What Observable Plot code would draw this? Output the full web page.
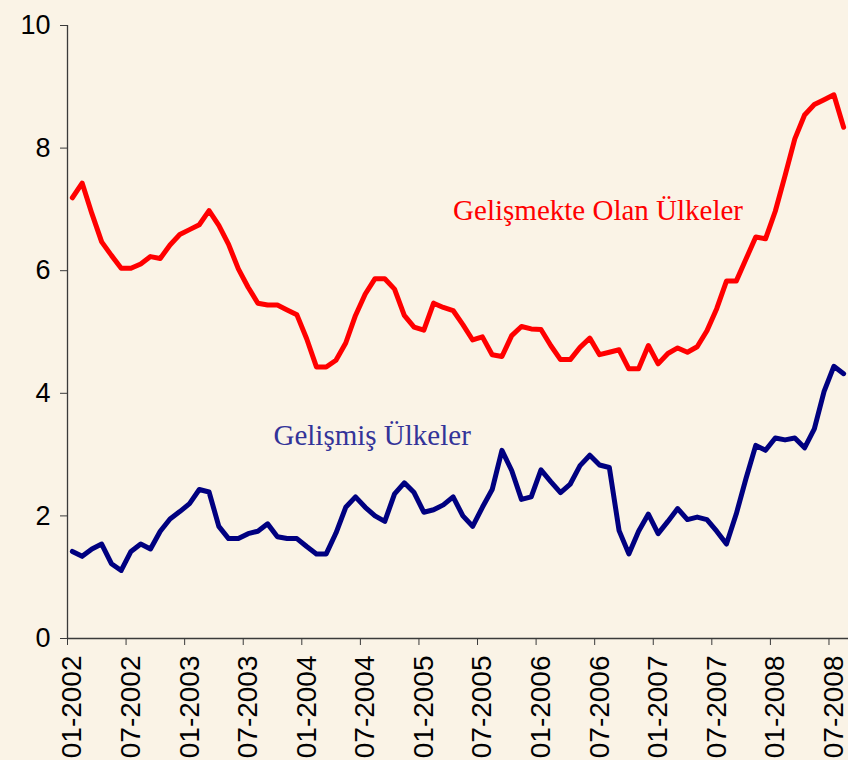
<!DOCTYPE html>
<html>
<head>
<meta charset="utf-8">
<script src="https://cdn.jsdelivr.net/npm/d3@7"></script>
<script src="https://cdn.jsdelivr.net/npm/@observablehq/plot@0.6"></script>
<style>
  html, body { margin: 0; padding: 0; background: #FAF3E6; }
  #chart { width: 848px; height: 760px; overflow: hidden; }
</style>
</head>
<body>
<div id="chart"></div>
<script>
// Monthly values, 01-2002 … 08-2008 (80 months)
const developing = [
  7.19, 7.43, 6.93, 6.47, 6.25, 6.04, 6.04, 6.11, 6.23, 6.20, 6.42, 6.59,
  6.67, 6.75, 6.98, 6.74, 6.43, 6.03, 5.73, 5.47, 5.44, 5.44, 5.36, 5.28,
  4.89, 4.43, 4.43, 4.54, 4.82, 5.27, 5.62, 5.87, 5.87, 5.70, 5.27, 5.08,
  5.03, 5.47, 5.40, 5.35, 5.12, 4.87, 4.92, 4.63, 4.60, 4.94, 5.09, 5.05,
  5.04, 4.78, 4.55, 4.55, 4.75, 4.90, 4.63, 4.67, 4.71, 4.40, 4.40, 4.78,
  4.48, 4.65, 4.74, 4.67, 4.76, 5.02, 5.38, 5.83, 5.83, 6.19, 6.55, 6.52,
  6.97, 7.55, 8.15, 8.54, 8.71, 8.79, 8.87, 8.34
];
const developed = [
  1.42, 1.34, 1.46, 1.54, 1.22, 1.11, 1.42, 1.54, 1.46, 1.75, 1.95, 2.07,
  2.20, 2.43, 2.39, 1.83, 1.63, 1.63, 1.71, 1.75, 1.87, 1.66, 1.63, 1.63,
  1.50, 1.38, 1.38, 1.72, 2.14, 2.31, 2.14, 2.00, 1.91, 2.36, 2.54, 2.38,
  2.06, 2.10, 2.18, 2.31, 2.00, 1.83, 2.14, 2.43, 3.07, 2.74, 2.27, 2.31,
  2.75, 2.56, 2.38, 2.52, 2.82, 2.99, 2.83, 2.79, 1.76, 1.38, 1.75, 2.03,
  1.71, 1.91, 2.12, 1.94, 1.98, 1.94, 1.75, 1.54, 2.03, 2.61, 3.15, 3.07,
  3.27, 3.24, 3.27, 3.11, 3.42, 4.03, 4.44, 4.32
];
const tickLabels = [
  "01-2002", "07-2002", "01-2003", "07-2003", "01-2004", "07-2004", "01-2005",
  "07-2005", "01-2006", "07-2006", "01-2007", "07-2007", "01-2008", "07-2008"
];
const yTicks = [0, 2, 4, 6, 8, 10];
const labelDeveloping = "Gelişmekte Olan Ülkeler";
const labelDeveloped = "Gelişmiş Ülkeler";

const nMonths = developing.length;
const dataDev = developing.map((v, i) => ({m: i + 0.5, v}));
const dataAdv = developed.map((v, i) => ({m: i + 0.5, v}));
const boundaryTicks = tickLabels.map((_, k) => k * 6);
const labelTicks = tickLabels.map((_, k) => k * 6 + 0.5);

const axisColor = "#3a3a3a";

const chart = Plot.plot({
  width: 848,
  height: 760,
  marginLeft: 67,
  marginRight: 0,
  marginTop: 25,
  marginBottom: 122,
  style: {background: "#FAF3E6", fontFamily: "'Liberation Sans', Arial, sans-serif", color: "#000"},
  x: {type: "linear", domain: [0, nMonths]},
  y: {domain: [0, 10]},
  marks: [
    Plot.axisY({ticks: yTicks, tickSize: 7, tickPadding: 10, fontSize: 27, label: null, stroke: axisColor, fill: "#000"}),
    Plot.axisX({ticks: boundaryTicks, tickSize: 7, tickFormat: () => "", label: null, stroke: axisColor}),
    Plot.axisX({ticks: labelTicks, tickSize: 0, tickPadding: 17, tickRotate: -90, fontSize: 28, label: null,
      fill: "#000", tickFormat: (d) => tickLabels[Math.round((d - 0.5) / 6)]}),
    Plot.ruleX([0], {y1: 0, y2: 10, stroke: axisColor, strokeWidth: 1.3}),
    Plot.ruleY([0], {stroke: axisColor, strokeWidth: 1.3}),
    Plot.line(dataDev, {x: "m", y: "v", stroke: "#FF0000", strokeWidth: 5, strokeLinejoin: "round", strokeLinecap: "round"}),
    Plot.line(dataAdv, {x: "m", y: "v", stroke: "#000080", strokeWidth: 5, strokeLinejoin: "round", strokeLinecap: "round"}),
    Plot.text([labelDeveloping], {x: 39.5, y: 6.835, text: d => d, textAnchor: "start", lineAnchor: "bottom",
      fill: "#FF0000", fontSize: 29, fontFamily: "'Liberation Serif', 'Times New Roman', serif"}),
    Plot.text([labelDeveloped], {x: 21.1, y: 3.15, text: d => d, textAnchor: "start", lineAnchor: "bottom",
      fill: "#333399", fontSize: 29, fontFamily: "'Liberation Serif', 'Times New Roman', serif"})
  ]
});
document.getElementById("chart").appendChild(chart);
</script>
</body>
</html>
